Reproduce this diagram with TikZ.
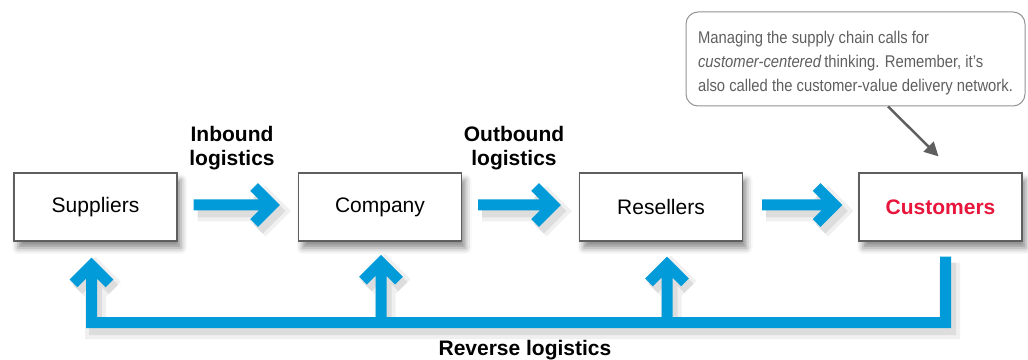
\documentclass[tikz,border=0pt]{standalone}
\usepackage{fontspec}
\setmainfont{Liberation Sans}
\newfontfamily\notefont[FakeStretch=0.87]{Liberation Sans}
\usetikzlibrary{arrows.meta,positioning,calc,shadows.blur}

\definecolor{flowblue}{RGB}{0,155,216}
\definecolor{custred}{RGB}{232,22,60}
\definecolor{boxgray}{RGB}{95,95,95}
\definecolor{notegray}{RGB}{95,95,95}

\tikzset{
  stage/.style={draw=boxgray, line width=1.2pt, fill=white,
    minimum width=163pt, minimum height=68pt, inner sep=0pt,
    font=\fontsize{21}{24}\selectfont,
    blur shadow={shadow xshift=4pt, shadow yshift=-7pt, shadow opacity=45, shadow blur radius=6pt}},
  flow/.style={draw=flowblue, line width=11pt, line join=miter,
    preaction={draw=black, opacity=.06, line width=21pt, transform canvas={xshift=4pt,yshift=-6pt}},
    preaction={draw=black, opacity=.08, line width=13pt, transform canvas={xshift=4pt,yshift=-6pt}}},
  lbl/.style={font=\fontsize{21}{23.5}\selectfont\bfseries, align=center, inner sep=0pt},
  note/.style={draw=gray!85, line width=1pt, rounded corners=12pt, fill=white,
    font=\notefont\fontsize{17}{24}\selectfont, text=notegray, align=left,
    minimum width=339pt, minimum height=94pt},
  pointer/.style={draw=boxgray, line width=2.5pt, -{Triangle[length=14pt,width=14pt]}}
}

\begin{document}
\begin{tikzpicture}[x=1pt, y=1pt]
    \useasboundingbox (0,0) rectangle (1028,359);
    % the four stages
    \node[stage] (sup) at (95.5,152) {Suppliers};
    \node[stage] (com) at (380,152) {Company};
    \node[stage] (res) at (661,152) {Resellers};
    \node[stage, text=custred, font=\fontsize{21}{24}\selectfont\bfseries] (cust) at (940.5,152) {Customers};

    % forward flow
    \coordinate (t1) at ([xshift=-25.8pt,yshift=2pt]com.west);
    \coordinate (t2) at ([xshift=-25.8pt,yshift=2pt]res.west);
    \coordinate (t3) at ([xshift=-23.8pt,yshift=2pt]cust.west);
    \draw[flow] ([xshift=16pt,yshift=2pt]sup.east) -- (t1) ++(-18,18) -- (t1) -- ++(-18,-18);
    \draw[flow] ([xshift=16pt,yshift=2pt]com.east) -- (t2) ++(-18,18) -- (t2) -- ++(-18,-18);
    \draw[flow] ([xshift=19pt,yshift=2pt]res.east) -- (t3) ++(-18,18) -- (t3) -- ++(-18,-18);
    \node[lbl] (inb) at (232,211) {Inbound\\logistics};
    \node[lbl] (outb) at (514,211) {Outbound\\logistics};

    % reverse flow
    \coordinate (r0) at ([xshift=5pt,yshift=-15pt]cust.south);
    \coordinate (r1) at ([xshift=-4pt,yshift=-81pt]sup.south);
    \coordinate (u1) at ([xshift=-4pt,yshift=-23.8pt]sup.south);
    \coordinate (u2) at ([xshift=1pt,yshift=-21pt]com.south);
    \coordinate (u3) at ([xshift=6pt,yshift=-22.8pt]res.south);
    \draw[flow] (r0) |- (r1) -- (u1) ++(-18,-18) -- (u1) -- ++(18,-18)
      (u2 |- r1) -- (u2) ++(-18,-18) -- (u2) -- ++(18,-18)
      (u3 |- r1) -- (u3) ++(-18,-18) -- (u3) -- ++(18,-18);
    \node[lbl, anchor=base] (rev) at (525,4) {Reverse logistics};

    % callout
    \node[note] (tip) at (855.5,300) {\rule{0pt}{20.5pt}Managing the supply chain calls for\\
      \textit{customer-centered}\,thinking. Remember, it’s\\
      also called the customer-value delivery network.};
    \draw[pointer] ([xshift=32.5pt]tip.south) -- ([xshift=-2pt,yshift=16pt]cust.north);
\end{tikzpicture}
\end{document}
